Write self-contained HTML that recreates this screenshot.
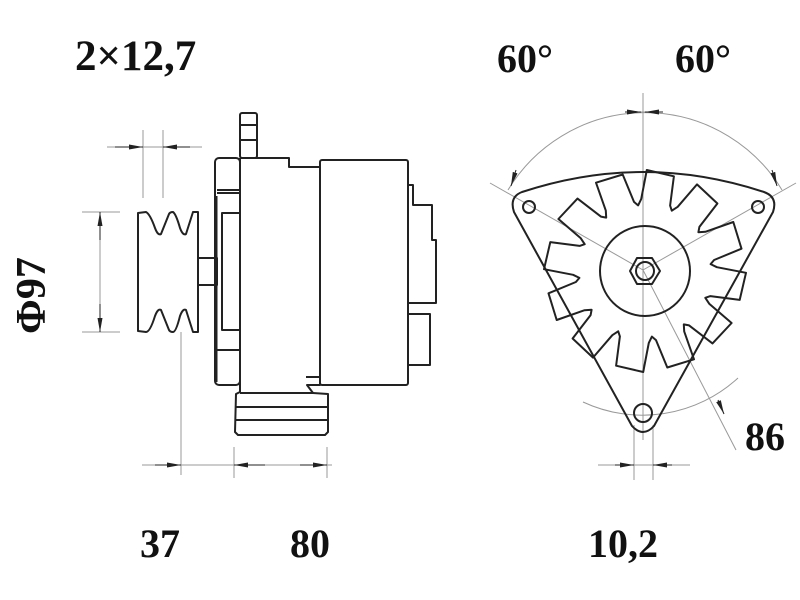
<!DOCTYPE html>
<html><head><meta charset="utf-8">
<style>
html,body{margin:0;padding:0;background:#fff;}
svg{display:block}
text{font-family:"Liberation Serif",serif;font-weight:bold;fill:#111}
</style></head>
<body>
<svg width="800" height="600" viewBox="0 0 800 600" xmlns="http://www.w3.org/2000/svg">
<defs>
<marker id="ar" markerWidth="14" markerHeight="6" refX="14" refY="3" orient="auto" markerUnits="userSpaceOnUse">
<path d="M0,0.5 L14,3 L0,5.5z" fill="#222"/></marker>
</defs>
<g fill="none" stroke="#999" stroke-width="1">
<line x1="143" y1="130" x2="143" y2="198"/>
<line x1="163" y1="130" x2="163" y2="198"/>
<line x1="107" y1="147" x2="202" y2="147"/>
<line x1="82" y1="212" x2="120" y2="212"/>
<line x1="82" y1="332" x2="120" y2="332"/>
<line x1="100" y1="212" x2="100" y2="332"/>
<line x1="181" y1="332" x2="181" y2="475"/>
<line x1="234" y1="447" x2="234" y2="478"/>
<line x1="327" y1="447" x2="327" y2="478"/>
<line x1="142" y1="465" x2="332" y2="465"/>
<line x1="643" y1="93" x2="643" y2="440"/>
<path d="M508,190 A160,160 0 0 1 782,190"/>
<line x1="490" y1="183" x2="643" y2="270"/>
<line x1="796" y1="183" x2="643" y2="270"/>
<path d="M583,402 A141,141 0 0 0 738,378"/>
<line x1="643" y1="270" x2="736" y2="450"/>
<line x1="634" y1="425" x2="634" y2="480"/>
<line x1="653" y1="425" x2="653" y2="480"/>
<line x1="598" y1="465" x2="690" y2="465"/>
<line x1="625" y1="112" x2="663" y2="112"/>
</g>
<g stroke="#222" stroke-width="1" fill="none">
<line x1="115" y1="147" x2="143" y2="147" marker-end="url(#ar)"/>
<line x1="190" y1="147" x2="163" y2="147" marker-end="url(#ar)"/>
<line x1="100" y1="240" x2="100" y2="212" marker-end="url(#ar)"/>
<line x1="100" y1="304" x2="100" y2="332" marker-end="url(#ar)"/>
<line x1="155" y1="465" x2="181" y2="465" marker-end="url(#ar)"/>
<line x1="265" y1="465" x2="234" y2="465" marker-end="url(#ar)"/>
<line x1="300" y1="465" x2="327" y2="465" marker-end="url(#ar)"/>
<line x1="615" y1="465" x2="634" y2="465" marker-end="url(#ar)"/>
<line x1="672" y1="465" x2="653" y2="465" marker-end="url(#ar)"/>
<line x1="625" y1="112" x2="641" y2="112" marker-end="url(#ar)"/>
<line x1="663" y1="112" x2="645" y2="112" marker-end="url(#ar)"/>
<line x1="516" y1="170" x2="511" y2="186" marker-end="url(#ar)"/>
<line x1="772" y1="170" x2="777" y2="186" marker-end="url(#ar)"/>
<line x1="718" y1="400" x2="724" y2="414" marker-end="url(#ar)"/>
</g>
<g fill="none" stroke="#222" stroke-width="2" stroke-linejoin="round">
<path d="M138,213 L146,212 Q150,214 155,228 Q158,236 161,234 L169,214 Q170,212 173,212 Q176,214 180,228 Q183,236 186,234 L193,212 L198,212 L198,332 L193,332 L186,310 Q183,308 180,316 Q176,332 173,332 Q170,332 169,330 L161,310 Q158,308 155,316 Q150,332 146,332 L138,331 Z"/>
<rect x="198" y="258" width="19" height="27"/>
<rect x="215" y="158" width="25" height="227" rx="4"/>
<line x1="217" y1="190" x2="240" y2="190"/>
<line x1="217" y1="193" x2="240" y2="193"/>
<rect x="222" y="213" width="18" height="117"/>
<line x1="217" y1="350" x2="240" y2="350"/>
<line x1="216" y1="196" x2="216" y2="382" stroke-width="3"/>
<rect x="240" y="113" width="17" height="45" rx="2"/>
<line x1="240" y1="125" x2="257" y2="125"/>
<line x1="240" y1="140" x2="257" y2="140"/>
<path d="M240,158 L289,158 L289,167 L320,167 L320,385 L307,385 L313,393 M240,158 L240,390"/>
<path d="M306,377 L320,377"/>
<rect x="320" y="160" width="88" height="225" rx="2"/>
<path d="M408,185 L413,185 L413,205 L432,205 L432,240 L436,240 L436,303 L408,303"/>
<rect x="408" y="314" width="22" height="51"/>
<path d="M240,385 L240,392 L236,394 L235,432 L238,435 L325,435 L328,432 L328,394 L313,393 L240,393"/>
<line x1="236" y1="407" x2="328" y2="407"/>
<line x1="236" y1="420" x2="328" y2="420"/>
<path d="M522,192 Q643,152 764,192 Q778,197 773,212 L654,426 Q643,438 632,426 L514,212 Q509,197 522,192 Z"/>
<circle cx="529" cy="207" r="6"/>
<circle cx="758" cy="207" r="6"/>
<circle cx="643" cy="413" r="9"/>
<circle cx="645" cy="271" r="45"/>
<polygon points="660,271 652,284 637,284 630,271 637,258 652,258"/>
<circle cx="645" cy="271" r="9"/>
<polygon id="star" points=""/>
</g>
<text x="75" y="70" font-size="43">2×12,7</text>
<text x="497" y="72" font-size="40">60°</text>
<text x="675" y="72" font-size="40">60°</text>
<text transform="translate(45,334) rotate(-90)" font-size="42">Φ97</text>
<text x="140" y="557" font-size="40">37</text>
<text x="290" y="557" font-size="40">80</text>
<text x="588" y="557" font-size="40">10,2</text>
<text x="745" y="450" font-size="40">86</text>
</svg>
<script>
var cx=645,cy=271,pts=[],n=12;
function p(r,a){a=a*Math.PI/180;return (cx+r*Math.sin(a)).toFixed(1)+","+(cy-r*Math.cos(a)).toFixed(1);}
for(var i=0;i<n;i++){var a=i*30-5;
pts.push(p(66,a-1));pts.push(p(72,a+2));pts.push(p(101,a+6));pts.push(p(99,a+22));pts.push(p(70,a+26));}
document.getElementById('star').setAttribute('points',pts.join(' '));
</script>
</body></html>
